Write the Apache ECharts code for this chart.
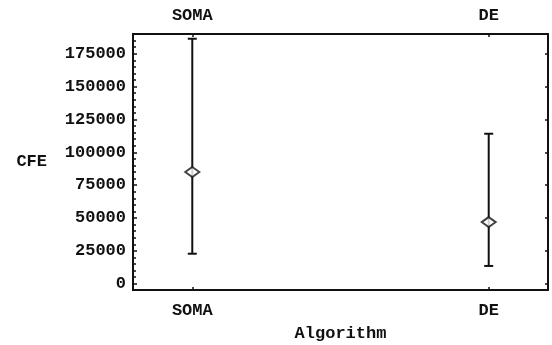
<!DOCTYPE html>
<html>
<head>
<meta charset="utf-8">
<script src="https://cdn.jsdelivr.net/npm/echarts@6/dist/echarts.min.js"></script>
<style>
  html, body { margin: 0; padding: 0; background: #fff; }
  #chart { width: 552px; height: 345px; }
</style>
</head>
<body>
<div id="chart"></div>
<script>
// Cost function evaluations (CFE) per algorithm: mean with min/max range
const categories = ['SOMA', 'DE'];
const categoryPos = [1, 2];
const meanCFE = [85000, 46900];
const lowCFE = [22800, 13500];
const highCFE = [186400, 114100];
const yTickLabels = [0, 25000, 50000, 75000, 100000, 125000, 150000, 175000];
const yMinorStep = 5000;
const yMinorTop = 185000;

const minorTicks = [];
for (let v = 0; v <= yMinorTop; v += yMinorStep) minorTicks.push(v);

const FONT = 'Liberation Mono';
const ink = '#111';
const textStyle = { fontFamily: FONT, fontWeight: 'bold', fontSize: 17, color: ink };

const chart = echarts.init(document.getElementById('chart'), null, { renderer: 'canvas' });

const catName = v => {
  const i = categoryPos.indexOf(Math.round(v));
  return i >= 0 ? categories[i] : '';
};

const xBase = {
  type: 'value', min: 0.8, max: 2.2,
  splitLine: { show: false },
  axisLine: { show: true, onZero: false, lineStyle: { color: ink, width: 2 } },
  axisTick: { show: true, inside: true, length: 3, customValues: categoryPos, lineStyle: { color: ink, width: 1.5 } },
  axisLabel: Object.assign({ show: true, margin: 12, customValues: categoryPos, formatter: catName }, textStyle)
};

const yBase = {
  type: 'value', min: -4800, max: 190000,
  splitLine: { show: false },
  axisLine: { show: true, onZero: false, lineStyle: { color: ink, width: 2 } }
};

const option = {
  backgroundColor: '#fff',
  animation: false,
  grid: { left: 133, right: 4, top: 34, bottom: 55, outerBoundsMode: 'none', containLabel: false },
  xAxis: [
    Object.assign({}, xBase, {
      position: 'bottom',
      name: 'Algorithm', nameLocation: 'middle', nameGap: 35,
      nameTextStyle: textStyle
    }),
    Object.assign({}, xBase, {
      position: 'top',
      axisLabel: Object.assign({}, xBase.axisLabel, { margin: 10 })
    })
  ],
  yAxis: [
    Object.assign({}, yBase, {
      position: 'left',
      name: 'CFE', nameLocation: 'middle', nameRotate: 0, nameGap: 86,
      nameTextStyle: textStyle,
      axisTick: { show: true, inside: true, length: 4, customValues: yTickLabels, lineStyle: { color: ink, width: 1.5 } },
      axisLabel: Object.assign({ show: true, margin: 7, customValues: yTickLabels, formatter: v => String(v) }, textStyle)
    }),
    Object.assign({}, yBase, {
      position: 'left',
      axisTick: { show: true, inside: true, length: 3, customValues: minorTicks, lineStyle: { color: ink, width: 1.5 } },
      axisLabel: { show: false }
    }),
    Object.assign({}, yBase, {
      position: 'right',
      axisTick: { show: true, inside: true, length: 3, customValues: yTickLabels, lineStyle: { color: ink, width: 1.5 } },
      axisLabel: { show: false }
    })
  ],
  series: [
    {
      type: 'custom',
      name: 'range',
      xAxisIndex: 0, yAxisIndex: 0,
      data: categoryPos.map((x, i) => [x, lowCFE[i], highCFE[i]]),
      renderItem: function (params, api) {
        const x = api.value(0);
        const lo = api.coord([x, api.value(1)]);
        const hi = api.coord([x, api.value(2)]);
        const cap = 4.5;
        const style = { stroke: ink, lineWidth: 2 };
        return {
          type: 'group',
          children: [
            { type: 'line', shape: { x1: hi[0], y1: hi[1], x2: lo[0], y2: lo[1] }, style: style },
            { type: 'line', shape: { x1: hi[0] - cap, y1: hi[1], x2: hi[0] + cap, y2: hi[1] }, style: style },
            { type: 'line', shape: { x1: lo[0] - cap, y1: lo[1], x2: lo[0] + cap, y2: lo[1] }, style: style }
          ]
        };
      },
      z: 2
    },
    {
      type: 'scatter',
      name: 'mean',
      xAxisIndex: 0, yAxisIndex: 0,
      data: categoryPos.map((x, i) => [x, meanCFE[i]]),
      symbol: 'diamond',
      symbolSize: [14, 10],
      itemStyle: { color: '#fff', borderColor: ink, borderWidth: 2 },
      z: 3
    }
  ]
};

chart.setOption(option);
</script>
</body>
</html>
